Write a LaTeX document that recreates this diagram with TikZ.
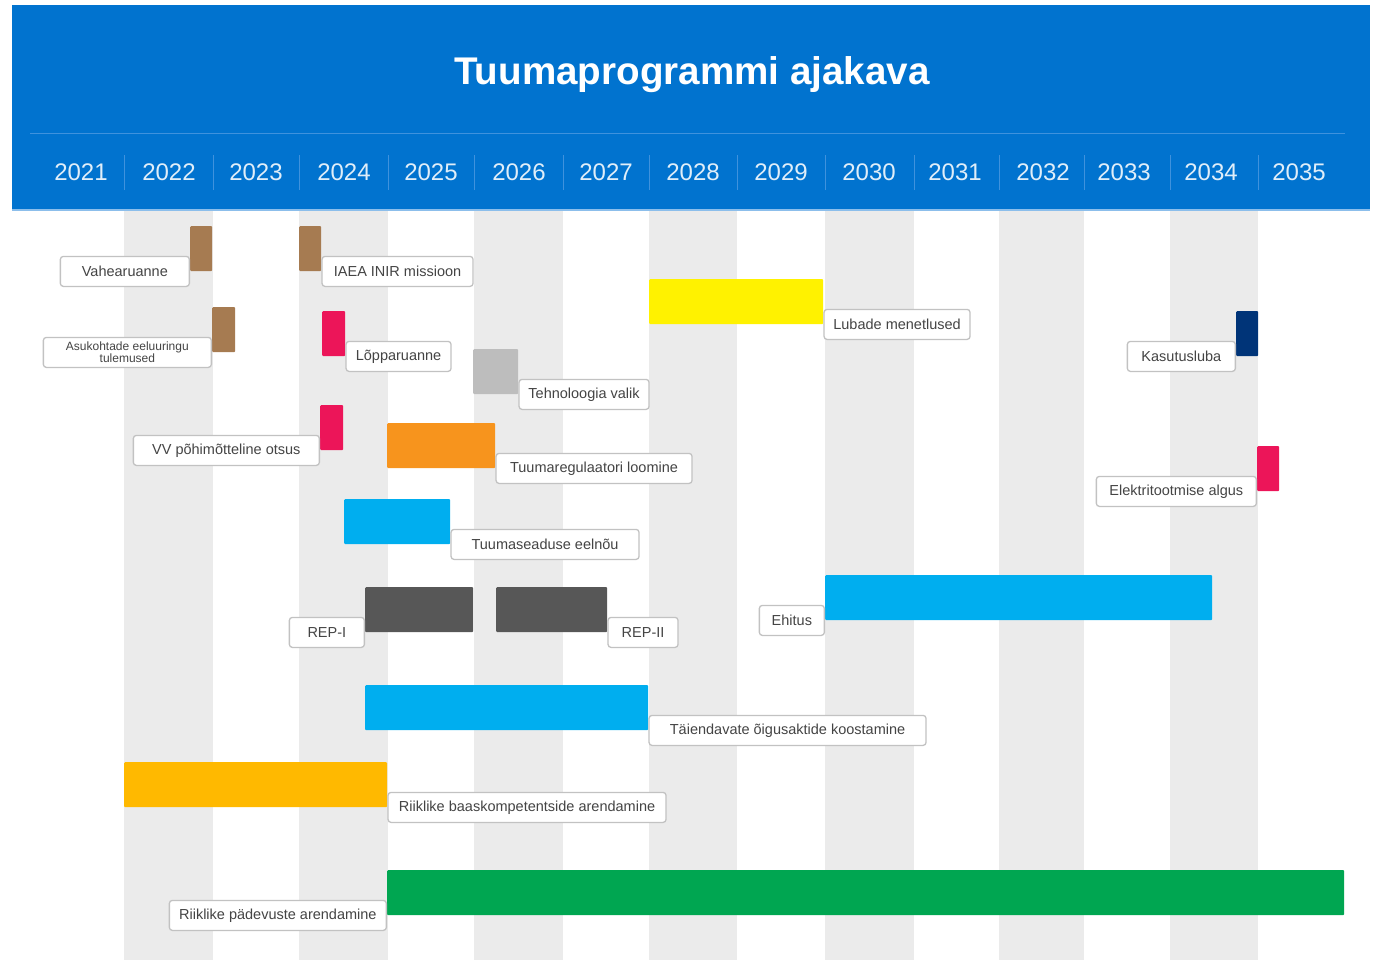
\documentclass[tikz,border=0pt]{standalone}
\usepackage{fontspec}
\setmainfont{Liberation Sans}
\usetikzlibrary{positioning}

\definecolor{hdrblue}{HTML}{0173CF}
\definecolor{hdrline}{HTML}{3F92DD}
\definecolor{stripegray}{HTML}{EBEBEB}
\definecolor{lblgray}{HTML}{C2C2C2}
\definecolor{txtgray}{HTML}{444444}
\definecolor{brownc}{HTML}{A67B51}
\definecolor{redc}{HTML}{EC1559}
\definecolor{lightgrayc}{HTML}{BDBDBD}
\definecolor{orangec}{HTML}{F7941D}
\definecolor{cyanc}{HTML}{00AEEF}
\definecolor{yellowc}{HTML}{FFF200}
\definecolor{navyc}{HTML}{003478}
\definecolor{darkc}{HTML}{575757}
\definecolor{amberc}{HTML}{FFB900}
\definecolor{greenc}{HTML}{00A651}

\tikzset{
  bar/.style={fill=#1, draw=none, rounded corners=1pt, inner sep=0pt,
    minimum height=45pt, anchor=north west},
  lbl/.style={draw=lblgray, line width=1.3pt, fill=white, rounded corners=3pt,
    inner sep=0pt, minimum height=30pt, text=txtgray,
    font=\fontsize{14.5}{16}\selectfont},
  year/.style={text=white!88!hdrblue, font=\fontsize{24}{26}\selectfont},
  title/.style={text=white, font=\fontsize{38.6}{40}\selectfont\bfseries}
}

\begin{document}
\begin{tikzpicture}[x=1pt, y=-1pt]
\useasboundingbox (0,0) rectangle (1373,960);

% Year columns
\foreach \xa/\xb in {124/213, 299/388, 474/563, 649/737, 825/914, 999/1084, 1170/1258} {
  \fill[stripegray] (\xa,210) rectangle (\xb,960);
}

% Header
\fill[hdrblue] (12,5) rectangle (1370,210);
\draw[hdrline, line width=1pt] (30,134) -- (1345,134);
\draw[hdrline!60!white, line width=1.2pt] (12,210) -- (1370,210);
\node[title] (title) at (692,75) {Tuumaprogrammi ajakava};
\foreach \xs in {124, 213, 299, 388, 474, 563, 649, 737, 825, 914, 999, 1084, 1170, 1258} {
  \draw[hdrline, line width=0.8pt] (\xs,155) -- (\xs,190);
}
\foreach \yr/\xc in {2021/81, 2022/169, 2023/256, 2024/344, 2025/431, 2026/519, 2027/606,
  2028/693, 2029/781, 2030/869, 2031/955, 2032/1043, 2033/1124, 2034/1211, 2035/1299} {
  \node[year] (y\yr) at (\xc,172) {\yr};
}

% Milestones
\node[bar=brownc, minimum width=22pt] (vahe) at (190,226) {};
\node[lbl, minimum width=129pt, left=0pt of vahe.south west] (vaheL) {Vahearuanne};

\node[bar=brownc, minimum width=22pt] (iaea) at (299,226) {};
\node[lbl, minimum width=151pt, right=0pt of iaea.south east] (iaeaL) {IAEA INIR missioon};

\node[bar=brownc, minimum width=23pt] (asuk) at (212,307) {};
\node[lbl, minimum width=168pt, align=center, font=\fontsize{12}{12}\selectfont,
  left=0pt of asuk.south west] (asukL) {Asukohtade eeluuringu\\tulemused};

\node[bar=redc, minimum width=23pt] (lopp) at (322,311) {};
\node[lbl, minimum width=105pt, right=0pt of lopp.south east] (loppL) {Lõpparuanne};

\node[bar=lightgrayc, minimum width=45pt] (tehn) at (473,349) {};
\node[lbl, minimum width=130pt, right=0pt of tehn.south east] (tehnL) {Tehnoloogia valik};

\node[bar=redc, minimum width=23pt] (otsus) at (320,405) {};
\node[lbl, minimum width=186pt, left=0pt of otsus.south west] (otsusL) {VV põhimõtteline otsus};

\node[bar=navyc, minimum width=22pt] (kasu) at (1236,311) {};
\node[lbl, minimum width=108pt, left=0pt of kasu.south west] (kasuL) {Kasutusluba};

\node[bar=redc, minimum width=22pt] (elek) at (1257,446) {};
\node[lbl, minimum width=160pt, left=0pt of elek.south west] (elekL) {Elektritootmise algus};

% Activities
\node[bar=yellowc, minimum width=174pt] (luba) at (649,279) {};
\node[lbl, minimum width=146pt, right=0pt of luba.south east] (lubaL) {Lubade menetlused};

\node[bar=orangec, minimum width=108pt] (treg) at (387,423) {};
\node[lbl, minimum width=196pt, right=0pt of treg.south east] (tregL) {Tuumaregulaatori loomine};

\node[bar=cyanc, minimum width=106pt] (tsea) at (344,499) {};
\node[lbl, minimum width=188pt, right=0pt of tsea.south east] (tseaL) {Tuumaseaduse eelnõu};

\node[bar=darkc, minimum width=108pt] (repi) at (365,587) {};
\node[lbl, minimum width=75pt, left=0pt of repi.south west] (repiL) {REP-I};

\node[bar=darkc, minimum width=111pt] (repii) at (496,587) {};
\node[lbl, minimum width=70pt, right=0pt of repii.south east] (repiiL) {REP-II};

\node[bar=cyanc, minimum width=387pt] (ehit) at (825,575) {};
\node[lbl, minimum width=65pt, left=0pt of ehit.south west] (ehitL) {Ehitus};

\node[bar=cyanc, minimum width=283pt] (taie) at (365,685) {};
\node[lbl, minimum width=277pt, right=0pt of taie.south east] (taieL) {Täiendavate õigusaktide koostamine};

\node[bar=amberc, minimum width=263pt] (baas) at (124,762) {};
\node[lbl, minimum width=278pt, right=0pt of baas.south east] (baasL) {Riiklike baaskompetentside arendamine};

\node[bar=greenc, minimum width=957pt] (pade) at (387,870) {};
\node[lbl, minimum width=217pt, left=0pt of pade.south west] (padeL) {Riiklike pädevuste arendamine};

\end{tikzpicture}
\end{document}
